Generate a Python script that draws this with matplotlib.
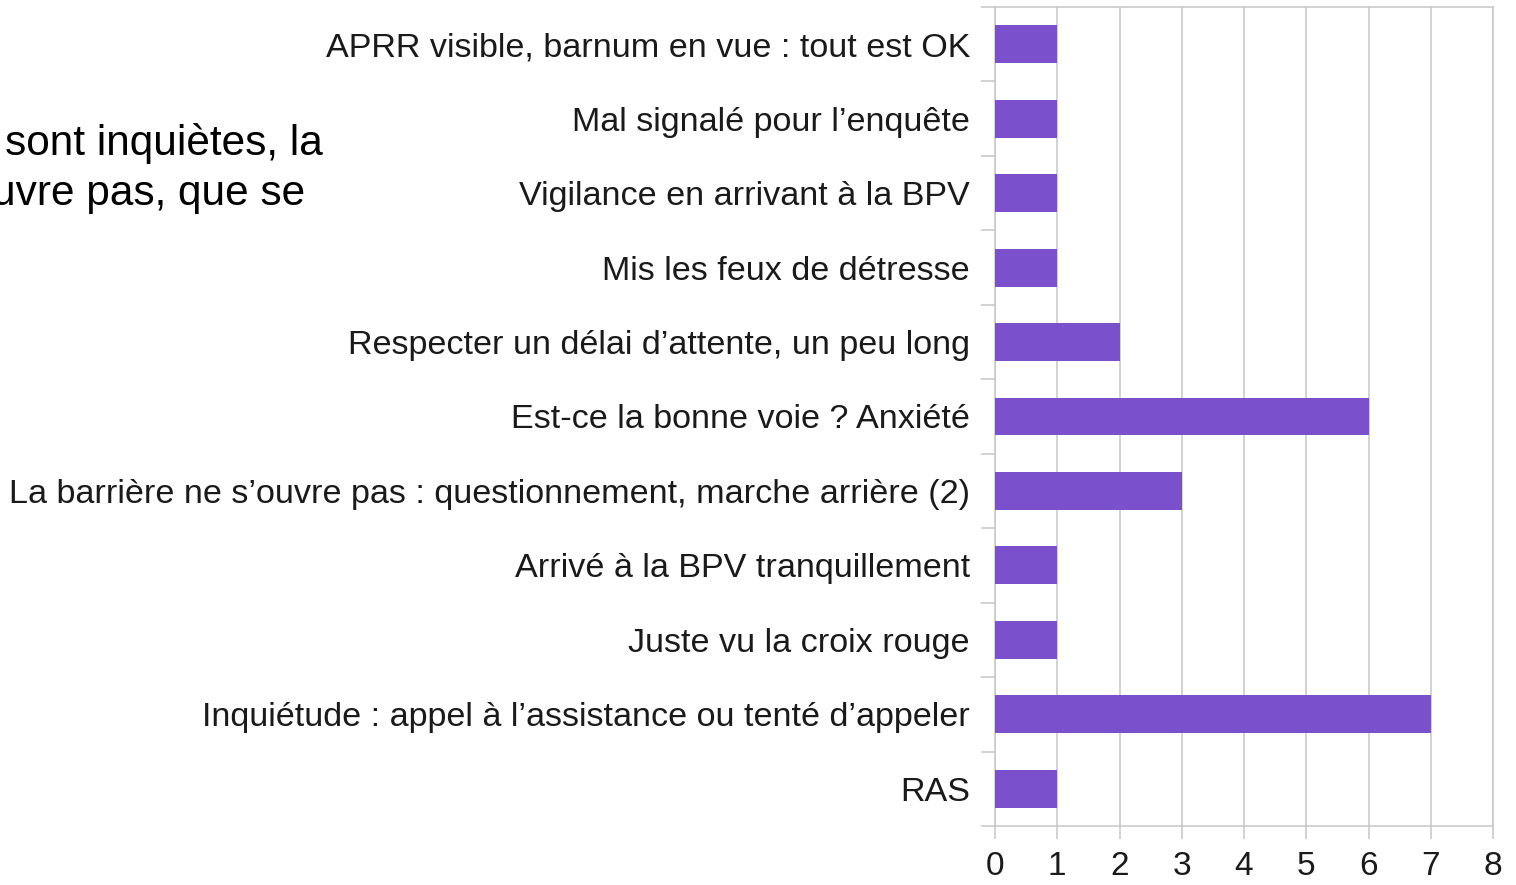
import numpy as np
import matplotlib.pyplot as plt

# categories, top to bottom as in the chart
categories = [
    "APRR visible, barnum en vue : tout est OK",
    "Mal signalé pour l\u2019enquête",
    "Vigilance en arrivant à la BPV",
    "Mis les feux de détresse",
    "Respecter un délai d\u2019attente, un peu long",
    "Est-ce la bonne voie ? Anxiété",
    "La barrière ne s\u2019ouvre pas : questionnement, marche arrière (2)",
    "Arrivé à la BPV tranquillement",
    "Juste vu la croix rouge",
    "Inquiétude : appel à l\u2019assistance ou tenté d\u2019appeler",
    "RAS",
]
values = [1, 1, 1, 1, 2, 6, 3, 1, 1, 7, 1]
x_ticks = [0, 1, 2, 3, 4, 5, 6, 7, 8]

bar_color = "#7a50cc"
grid_color = "#c6c6c6"

plt.rcParams['font.family'] = ['Liberation Sans', 'DejaVu Sans']

fig = plt.figure(figsize=(15.16, 8.85), dpi=100)
ax = fig.add_axes([995 / 1516, 1 - 826 / 885, 498 / 1516, 819 / 885])

y = np.arange(len(categories))
ax.barh(y, values, height=0.51, color=bar_color, zorder=3)

ax.set_xlim(0, 8)
ax.set_ylim(len(categories) - 0.5, -0.5)
ax.set_xticks(x_ticks)
ax.set_yticks(y)
ax.set_yticklabels(categories, fontsize=24.6, color="#1a1a1a")
ax.set_yticks(np.arange(len(categories) + 1) - 0.5, minor=True)

ax.tick_params(axis="y", which="major", length=0, pad=18)
ax.tick_params(axis="y", which="minor", length=10, width=1.1, color=grid_color)
ax.tick_params(axis="x", length=9, width=1.1, color=grid_color, pad=9,
               labelsize=24, labelcolor="#1a1a1a")

ax.grid(axis="x", color=grid_color, linewidth=1.1, zorder=0)
for s in ax.spines.values():
    s.set_color(grid_color)
    s.set_linewidth(1.1)

# clipped slide text on the left
fig.text(323 / 1516, 1 - 143 / 885, "sont inquiètes, la", fontsize=30.5,
         ha="right", va="center", color="black")
fig.text(305 / 1516, 1 - 194 / 885, "uvre pas, que se", fontsize=30.5,
         ha="right", va="center", color="black")

fig.savefig("out.png", dpi=100)
